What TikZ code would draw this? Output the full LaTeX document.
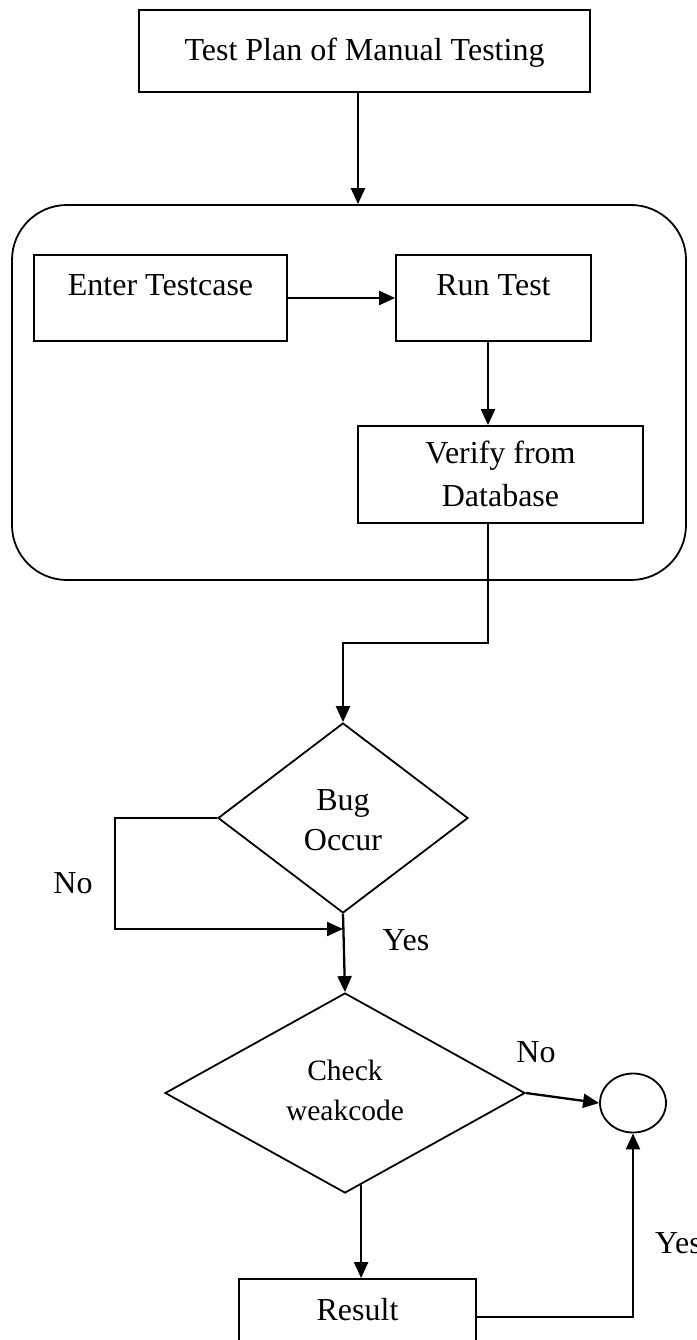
\documentclass[tikz,border=0pt]{standalone}
\usepackage{fontspec}
\setmainfont{Liberation Serif}
\usetikzlibrary{shapes.geometric,arrows.meta,calc}
\begin{document}
\begin{tikzpicture}[x=1pt,y=-1pt,
  boxnode/.style={draw,line width=1.8pt,inner sep=0pt,rectangle},
  dec/.style={draw,line width=1.8pt,diamond,inner sep=0pt},
  txt/.style={font=\fontsize{32}{38}\selectfont,inner sep=0pt,anchor=base},
  smalltxt/.style={txt,font=\fontsize{29.5}{36}\selectfont},
  conn/.style={line width=2.3pt},
  arr/.style={conn,-{Triangle[length=16pt,width=14pt]}}
]
\fill[white] (0,0) rectangle (696,1340);
\useasboundingbox (0,0) rectangle (696,1340);

% boxes
\node[boxnode,minimum width=451pt,minimum height=82pt] (plan) at (364.5,51) {};
\node[txt] (plantxt) at (364.5,61) {Test Plan of Manual Testing};

\node[draw,line width=1.8pt,rounded corners=55pt,minimum width=674pt,minimum height=375pt] (group) at (349,392.5) {};

\node[boxnode,minimum width=253pt,minimum height=86pt] (enter) at (160.5,298) {};
\node[txt] (entertxt) at (160.5,295) {Enter Testcase};

\node[boxnode,minimum width=195pt,minimum height=86pt] (run) at (493.5,298) {};
\node[txt] (runtxt) at (493.5,295) {Run Test};

\node[boxnode,minimum width=285pt,minimum height=97pt] (verify) at (500.5,474.5) {};
\node[txt] (verifytxt1) at (500.5,463) {Verify from};
\node[txt] (verifytxt2) at (500.5,506) {Database};

\node[dec,minimum width=250pt,minimum height=190pt] (bug) at (343,818) {};
\node[txt] (bugtxt1) at (343,810) {Bug};
\node[txt] (bugtxt2) at (343,850) {Occur};

\node[dec,minimum width=360pt,minimum height=200pt] (check) at (345,1093) {};
\node[smalltxt] (checktxt1) at (345,1080) {Check};
\node[smalltxt] (checktxt2) at (345,1120) {weakcode};

\node[draw,ellipse,line width=1.8pt,minimum width=66pt,minimum height=59pt,inner sep=0pt] (sink) at (633,1103) {};

\node[boxnode,minimum width=237pt,minimum height=82pt] (result) at (357.5,1320) {};
\node[txt] (resulttxt) at (357.5,1320) {Result};

% labels
\node[txt] (nolbl1) at (73,893) {No};
\node[txt] (yeslbl1) at (406,950) {Yes};
\node[txt] (nolbl2) at (536,1062) {No};
\node[txt,anchor=base west] (yeslbl2) at (655,1253) {Yes};

% helper coordinates
\coordinate (topx) at (358,0);
\coordinate (colA) at (488,0);
\coordinate (bend1) at (488,643);
\coordinate (bend2) at (343,643);
\coordinate (loopA) at (115,818);
\coordinate (loopB) at (115,929);
\coordinate (loopend) at (343,929);
\coordinate (chkout) at ($(check.south)!0.089!(check.east)$);
\coordinate (rc) at (633,1317);

% connectors
\draw[arr] (plan.south -| topx) -- (group.north -| topx);
\draw[arr] (enter.east) -- (run.west);
\draw[arr] (run.south -| colA) -- (verify.north -| colA);
\draw[conn] (verify.south -| colA) -- (bend1) -- (bend2) -- ++(0,2);
\draw[arr] (bend2) -- (bug.north);
\draw[conn] (bug.west) -- (loopA) -- (loopB) -- ++(2,0);
\draw[arr] (loopB) -- (loopend);
\draw[arr] (bug.south) -- (check.north);
\draw[arr] (check.east) -- (sink.west);
\draw[arr] (chkout) -- (chkout |- result.north);
\draw[conn] (result.east |- rc) -- (rc) -- ++(0,-2);
\draw[arr] (rc) -- (sink.south);
\end{tikzpicture}
\end{document}
